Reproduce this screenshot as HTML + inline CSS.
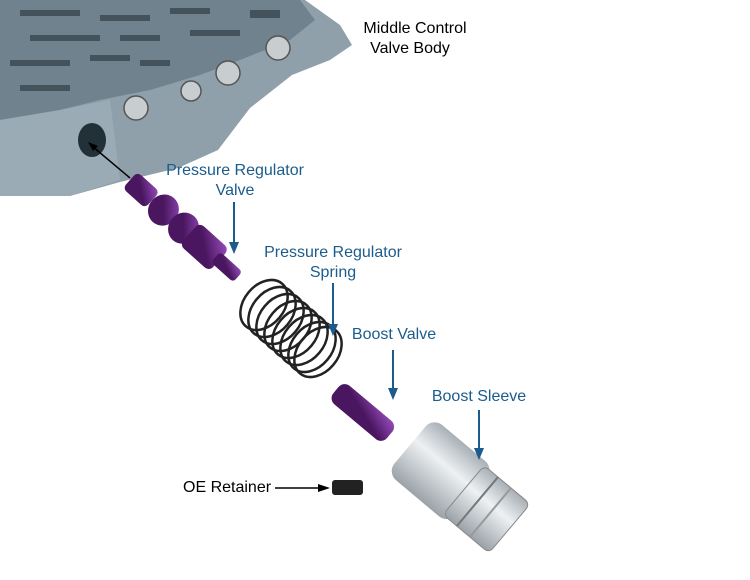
<!DOCTYPE html>
<html><head><style>
body{margin:0;background:#fff;width:750px;height:580px;overflow:hidden}
svg{display:block}
text{font-family:"Liberation Sans",sans-serif;font-size:16px}
.b{fill:#1b5c8c}
</style></head><body>
<svg width="750" height="580" viewBox="0 0 750 580">
<defs>
<linearGradient id="pv" x1="0" y1="0" x2="1" y2="-1"><stop offset="0" stop-color="#4a1660"/><stop offset=".5" stop-color="#9a4fc0"/><stop offset="1" stop-color="#5a2070"/></linearGradient>
<linearGradient id="sl" x1="0" y1="0" x2="0" y2="1"><stop offset="0" stop-color="#a8b0b6"/><stop offset=".4" stop-color="#eef1f3"/><stop offset="1" stop-color="#9aa2a8"/></linearGradient>
</defs>
<polygon points="0,0 305,0 340,25 352,45 330,60 292,75 250,108 218,150 178,168 120,182 70,196 0,196" fill="#8fa0aa"/>
<polygon points="0,0 300,0 315,20 290,40 240,60 200,75 150,90 100,100 60,110 0,120" fill="#6f828e"/>
<g fill="#44525c">
<rect x="20" y="10" width="60" height="6"/><rect x="100" y="15" width="50" height="6"/><rect x="170" y="8" width="40" height="6"/>
<rect x="30" y="35" width="70" height="6"/><rect x="120" y="35" width="40" height="6"/><rect x="190" y="30" width="50" height="6"/>
<rect x="10" y="60" width="60" height="6"/><rect x="90" y="55" width="40" height="6"/><rect x="140" y="60" width="30" height="6"/>
<rect x="20" y="85" width="50" height="6"/><rect x="250" y="10" width="30" height="8"/>
</g>
<polygon points="0,120 60,110 110,100 120,180 70,196 0,196" fill="#9aabb5"/>
<ellipse cx="92" cy="140" rx="14" ry="17" fill="#223038"/>
<g fill="#c8cdd0" stroke="#555" stroke-width="1.5">
<circle cx="136" cy="108" r="12"/><circle cx="191" cy="91" r="10"/><circle cx="228" cy="73" r="12"/><circle cx="278" cy="48" r="12"/>
</g>
<line x1="130" y1="178" x2="92" y2="146" stroke="#000" stroke-width="1.5"/>
<polygon points="88,142 98,146 93,151" fill="#000"/>
<g transform="translate(130,180) rotate(42)">
<rect x="0" y="-11" width="30" height="22" rx="5" fill="url(#pv)"/>
<ellipse cx="45" cy="0" rx="15" ry="16" fill="url(#pv)"/>
<ellipse cx="72" cy="0" rx="15" ry="16" fill="url(#pv)"/>
<rect x="80" y="-15" width="40" height="30" rx="6" fill="url(#pv)"/>
<rect x="115" y="-7" width="30" height="14" rx="4" fill="url(#pv)"/>
</g>
<g fill="none" stroke="#222" stroke-width="2.5">
<ellipse cx="264" cy="305" rx="28" ry="20" transform="rotate(-50 264 305)"/>
<ellipse cx="272" cy="312" rx="28" ry="20" transform="rotate(-50 272 312)"/>
<ellipse cx="280" cy="319" rx="28" ry="20" transform="rotate(-50 280 319)"/>
<ellipse cx="288" cy="326" rx="28" ry="20" transform="rotate(-50 288 326)"/>
<ellipse cx="296" cy="333" rx="28" ry="20" transform="rotate(-50 296 333)"/>
<ellipse cx="304" cy="340" rx="28" ry="20" transform="rotate(-50 304 340)"/>
<ellipse cx="312" cy="347" rx="28" ry="20" transform="rotate(-50 312 347)"/>
<ellipse cx="318" cy="352" rx="28" ry="20" transform="rotate(-50 318 352)"/>
</g>
<rect x="336" y="390" width="70" height="24" rx="8" fill="url(#pv)" transform="rotate(40 336 390) translate(0,-12)"/>
<g transform="translate(410,445) rotate(40)">
<rect x="0" y="-36" width="80" height="72" rx="12" fill="url(#sl)"/>
<rect x="70" y="-32" width="60" height="64" rx="6" fill="url(#sl)" stroke="#888"/>
<line x1="88" y1="-32" x2="88" y2="32" stroke="#777" stroke-width="2"/>
<line x1="105" y1="-32" x2="105" y2="32" stroke="#999" stroke-width="2"/>
</g>
<rect x="332" y="480" width="31" height="15" rx="3" fill="#222"/>
<text x="415" y="33" text-anchor="middle">Middle Control</text>
<text x="410" y="53" text-anchor="middle">Valve Body</text>
<text class="b" x="235" y="175" text-anchor="middle">Pressure Regulator</text>
<text class="b" x="235" y="195" text-anchor="middle">Valve</text>
<text class="b" x="333" y="257" text-anchor="middle">Pressure Regulator</text>
<text class="b" x="333" y="277" text-anchor="middle">Spring</text>
<text class="b" x="394" y="339" text-anchor="middle">Boost Valve</text>
<text class="b" x="479" y="401" text-anchor="middle">Boost Sleeve</text>
<text x="183" y="492">OE Retainer</text>
<g stroke="#1b5c8c" stroke-width="2">
<line x1="234" y1="202" x2="234" y2="244"/><line x1="333" y1="283" x2="333" y2="326"/>
<line x1="393" y1="350" x2="393" y2="390"/><line x1="479" y1="410" x2="479" y2="450"/>
</g>
<g fill="#1b5c8c">
<polygon points="229,242 239,242 234,254"/><polygon points="328,324 338,324 333,336"/>
<polygon points="388,388 398,388 393,400"/><polygon points="474,448 484,448 479,460"/>
</g>
<line x1="275" y1="488" x2="320" y2="488" stroke="#000" stroke-width="1.5"/>
<polygon points="318,484 330,488 318,492" fill="#000"/>
</svg>
</body></html>
